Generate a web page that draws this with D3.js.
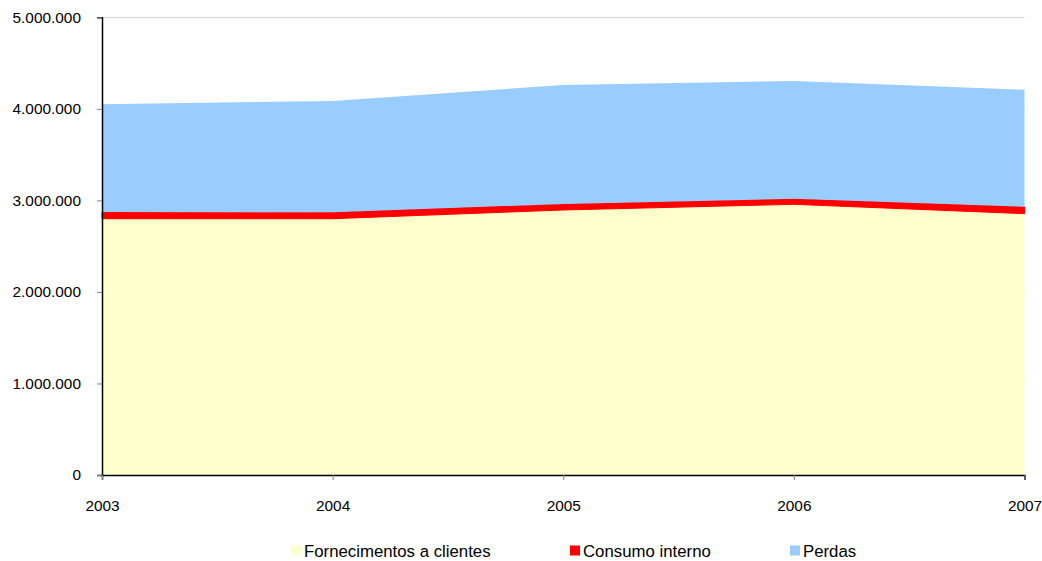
<!DOCTYPE html>
<html><head><meta charset="utf-8">
<script src="https://cdn.jsdelivr.net/npm/d3@7/dist/d3.min.js"></script>
<style>
body{margin:0;background:#fff;}
text{font-family:"Liberation Sans",Arial,sans-serif;fill:#000;}
</style></head><body>
<svg id="c" width="1042" height="561"></svg>
<script>
const years = [2003, 2004, 2005, 2006, 2007];
const fornecimentos = [2800000, 2800000, 2895000, 2957000, 2855000];
const consumo = [72000, 70000, 66000, 60000, 75000];
const perdas = [1178000, 1216000, 1300000, 1287000, 1279000];
const seriesNames = ["Fornecimentos a clientes", "Consumo interno", "Perdas"];
const colors = ["#FFFFCC", "#FF0000", "#99CCFF"];
const yTicks = [0, 1000000, 2000000, 3000000, 4000000, 5000000];

const svg = d3.select("#c");
const L = 102, R = 1024.5, T = 17.3, B = 475;
const x = d3.scaleLinear().domain([2003, 2007]).range([L, R]);
const y = d3.scaleLinear().domain([0, 5000000]).range([B, T]);
const fmt = v => d3.format(",")(v).replace(/,/g, ".");

const table = years.map((yr, i) => ({year: yr, f: fornecimentos[i], c: consumo[i], p: perdas[i]}));
const stack = d3.stack().keys(["f", "c", "p"])(table);

// gridlines
svg.append("g").selectAll("line").data(yTicks.slice(1)).join("line")
  .attr("x1", L).attr("x2", R).attr("y1", d => Math.round(y(d)) + 0.5).attr("y2", d => Math.round(y(d)) + 0.5)
  .attr("stroke", "#d4d4d4").attr("stroke-width", 1);

const area = d3.area().x(d => x(d.data.year)).y0(d => y(d[0])).y1(d => y(d[1]));
svg.append("g").selectAll("path").data(stack).join("path")
  .attr("d", area).attr("fill", (d, i) => colors[i])
  .attr("stroke", (d, i) => i === 1 ? colors[1] : "none").attr("stroke-width", 1);

// axes
const yAxis = d3.axisLeft(y).tickValues(yTicks).tickFormat(fmt).tickSize(5).tickPadding(16);
const gy = svg.append("g").attr("transform", `translate(${L},0)`).call(yAxis);
gy.select(".domain").attr("stroke", "#000").attr("stroke-width", 1.5);
gy.selectAll(".tick line").attr("stroke", "#808080");
gy.selectAll("text").style("font-size", "15.4px").attr("fill", "#000");

const xAxis = d3.axisBottom(x).tickValues(years).tickFormat(d3.format("d")).tickSize(5).tickPadding(20);
const gx = svg.append("g").attr("transform", `translate(0,${B})`).call(xAxis);
gx.select(".domain").attr("stroke", "#000").attr("stroke-width", 1.5);
gx.selectAll(".tick line").attr("stroke", "#808080");
gx.selectAll("text").style("font-size", "15.4px").attr("fill", "#000");

// legend
const legX = [291, 570, 790];
const lg = svg.append("g").selectAll("g").data(seriesNames).join("g")
  .attr("transform", (d, i) => `translate(${legX[i]},545.5)`);
lg.append("rect").attr("width", 10).attr("height", 10).attr("fill", (d, i) => colors[i]);
lg.append("text").attr("x", 13).attr("y", 11).style("font-size", "16.8px").text(d => d);
</script>
</body></html>
